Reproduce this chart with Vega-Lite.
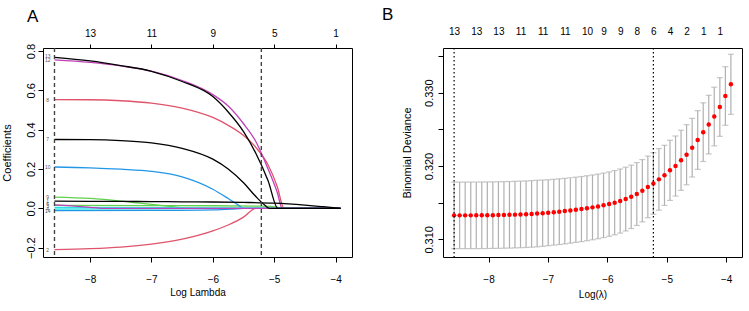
{
"$schema": "https://vega.github.io/schema/vega-lite/v6.json",
"padding": {"left": 0, "top": 5, "right": 5, "bottom": 5},
"background": "white",
"spacing": 28,
"config": {
  "font": "Liberation Sans",
  "view": {"stroke": "black", "strokeWidth": 1},
  "axis": {"grid": false, "domain": false, "tickColor": "black", "labelColor": "black", "titleColor": "black", "labelFontSize": 10, "titleFontSize": 10, "titleFontWeight": "normal", "tickSize": 5},
  "title": {"fontSize": 17, "fontWeight": "normal", "anchor": "start", "frame": "group", "color": "black"}
},
"datasets": {
  "paths": [
    {"v":"2","l":-8.58,"c":-0.21},{"v":"2","l":-8.0,"c":-0.205},{"v":"2","l":-7.5,"c":-0.197},{"v":"2","l":-7.0,"c":-0.182},{"v":"2","l":-6.5,"c":-0.157},{"v":"2","l":-6.0,"c":-0.115},{"v":"2","l":-5.75,"c":-0.085},{"v":"2","l":-5.5,"c":-0.045},{"v":"2","l":-5.3,"c":0.0},{"v":"2","l":-3.92,"c":0.0},
    {"v":"8","l":-8.58,"c":0.553},{"v":"8","l":-8.0,"c":0.552},{"v":"8","l":-7.5,"c":0.547},{"v":"8","l":-7.0,"c":0.535},{"v":"8","l":-6.5,"c":0.51},{"v":"8","l":-6.0,"c":0.462},{"v":"8","l":-5.75,"c":0.422},{"v":"8","l":-5.5,"c":0.37},{"v":"8","l":-5.3,"c":0.31},{"v":"8","l":-5.1,"c":0.22},{"v":"8","l":-4.95,"c":0.11},{"v":"8","l":-4.84,"c":0.0},{"v":"8","l":-3.92,"c":0.0},
    {"v":"3","l":-8.58,"c":0.015},{"v":"3","l":-7.0,"c":0.014},{"v":"3","l":-6.0,"c":0.013},{"v":"3","l":-5.2,"c":0.011},{"v":"3","l":-4.95,"c":0.006},{"v":"3","l":-4.85,"c":0.0},{"v":"3","l":-3.92,"c":0.0},
    {"v":"9","l":-8.58,"c":0.057},{"v":"9","l":-8.0,"c":0.05},{"v":"9","l":-7.5,"c":0.037},{"v":"9","l":-7.0,"c":0.02},{"v":"9","l":-6.7,"c":0.01},{"v":"9","l":-6.4,"c":0.0},{"v":"9","l":-3.92,"c":0.0},
    {"v":"4","l":-8.58,"c":-0.012},{"v":"4","l":-7.0,"c":-0.011},{"v":"4","l":-6.0,"c":-0.008},{"v":"4","l":-5.7,"c":-0.004},{"v":"4","l":-5.5,"c":0.0},{"v":"4","l":-3.92,"c":0.0},
    {"v":"10","l":-8.58,"c":0.21},{"v":"10","l":-8.0,"c":0.206},{"v":"10","l":-7.5,"c":0.199},{"v":"10","l":-7.0,"c":0.188},{"v":"10","l":-6.5,"c":0.16},{"v":"10","l":-6.0,"c":0.097},{"v":"10","l":-5.75,"c":0.05},{"v":"10","l":-5.6,"c":0.02},{"v":"10","l":-5.5,"c":0.0},{"v":"10","l":-3.92,"c":0.0},
    {"v":"5","l":-8.58,"c":0.004},{"v":"5","l":-7.0,"c":0.003},{"v":"5","l":-6.0,"c":0.002},{"v":"5","l":-5.5,"c":0.001},{"v":"5","l":-5.2,"c":0.0},{"v":"5","l":-3.92,"c":0.0},
    {"v":"11","l":-8.58,"c":-0.004},{"v":"11","l":-7.5,"c":-0.003},{"v":"11","l":-6.5,"c":-0.001},{"v":"11","l":-6.2,"c":0.0},{"v":"11","l":-3.92,"c":0.0},
    {"v":"6","l":-8.58,"c":0.018},{"v":"6","l":-8.3,"c":0.012},{"v":"6","l":-8.0,"c":0.005},{"v":"6","l":-7.8,"c":0.0},{"v":"6","l":-3.92,"c":0.0},
    {"v":"12","l":-8.58,"c":0.755},{"v":"12","l":-8.0,"c":0.742},{"v":"12","l":-7.5,"c":0.724},{"v":"12","l":-7.0,"c":0.698},{"v":"12","l":-6.5,"c":0.65},{"v":"12","l":-6.0,"c":0.578},{"v":"12","l":-5.75,"c":0.52},{"v":"12","l":-5.5,"c":0.43},{"v":"12","l":-5.3,"c":0.34},{"v":"12","l":-5.1,"c":0.2},{"v":"12","l":-4.95,"c":0.08},{"v":"12","l":-4.87,"c":0.0},{"v":"12","l":-3.92,"c":0.0},
    {"v":"1","l":-8.58,"c":0.036},{"v":"1","l":-8.0,"c":0.0355},{"v":"1","l":-7.5,"c":0.035},{"v":"1","l":-7.0,"c":0.034},{"v":"1","l":-6.5,"c":0.033},{"v":"1","l":-6.0,"c":0.032},{"v":"1","l":-5.5,"c":0.03},{"v":"1","l":-5.0,"c":0.026},{"v":"1","l":-4.5,"c":0.016},{"v":"1","l":-4.2,"c":0.008},{"v":"1","l":-3.92,"c":0.0},
    {"v":"7","l":-8.58,"c":0.35},{"v":"7","l":-8.0,"c":0.349},{"v":"7","l":-7.5,"c":0.344},{"v":"7","l":-7.0,"c":0.333},{"v":"7","l":-6.5,"c":0.305},{"v":"7","l":-6.0,"c":0.25},{"v":"7","l":-5.75,"c":0.2},{"v":"7","l":-5.5,"c":0.13},{"v":"7","l":-5.3,"c":0.06},{"v":"7","l":-5.15,"c":0.015},{"v":"7","l":-5.08,"c":0.0},{"v":"7","l":-3.92,"c":0.0},
    {"v":"13","l":-8.58,"c":0.768},{"v":"13","l":-8.0,"c":0.75},{"v":"13","l":-7.5,"c":0.726},{"v":"13","l":-7.0,"c":0.697},{"v":"13","l":-6.5,"c":0.645},{"v":"13","l":-6.0,"c":0.568},{"v":"13","l":-5.75,"c":0.49},{"v":"13","l":-5.5,"c":0.39},{"v":"13","l":-5.3,"c":0.28},{"v":"13","l":-5.1,"c":0.14},{"v":"13","l":-4.94,"c":0.0},{"v":"13","l":-3.92,"c":0.0}
  ],
  "labelsA": [
    {"lab":"13","lx":-8.69,"c":0.776},{"lab":"12","lx":-8.69,"c":0.754},{"lab":"8","lx":-8.69,"c":0.553},{"lab":"7","lx":-8.69,"c":0.35},{"lab":"10","lx":-8.69,"c":0.21},{"lab":"9","lx":-8.69,"c":0.06},{"lab":"1","lx":-8.69,"c":0.038},{"lab":"6","lx":-8.69,"c":0.02},{"lab":"3","lx":-8.69,"c":0.012},{"lab":"4","lx":-8.69,"c":-0.004},{"lab":"14","lx":-8.69,"c":-0.014},{"lab":"2","lx":-8.69,"c":-0.21}
  ],
  "cutsA": [{"l":-8.58},{"l":-5.21}],
  "cutsB": [{"l":-8.58},{"l":-5.225}],
  "cv": [
    {"l":-8.58,"m":0.31327,"lo":0.30873,"hi":0.31781},
    {"l":-8.487,"m":0.31327,"lo":0.30873,"hi":0.31781},
    {"l":-8.394,"m":0.31327,"lo":0.30873,"hi":0.31781},
    {"l":-8.300,"m":0.31327,"lo":0.30873,"hi":0.31781},
    {"l":-8.207,"m":0.31328,"lo":0.30874,"hi":0.31782},
    {"l":-8.114,"m":0.31328,"lo":0.30874,"hi":0.31782},
    {"l":-8.021,"m":0.31329,"lo":0.30875,"hi":0.31783},
    {"l":-7.928,"m":0.31330,"lo":0.30876,"hi":0.31784},
    {"l":-7.834,"m":0.31331,"lo":0.30877,"hi":0.31785},
    {"l":-7.741,"m":0.31333,"lo":0.30879,"hi":0.31787},
    {"l":-7.648,"m":0.31335,"lo":0.30881,"hi":0.31789},
    {"l":-7.555,"m":0.31337,"lo":0.30883,"hi":0.31791},
    {"l":-7.462,"m":0.31340,"lo":0.30886,"hi":0.31794},
    {"l":-7.368,"m":0.31343,"lo":0.30889,"hi":0.31797},
    {"l":-7.275,"m":0.31347,"lo":0.30893,"hi":0.31801},
    {"l":-7.182,"m":0.31352,"lo":0.30898,"hi":0.31806},
    {"l":-7.089,"m":0.31357,"lo":0.30905,"hi":0.31809},
    {"l":-6.996,"m":0.31363,"lo":0.30913,"hi":0.31813},
    {"l":-6.902,"m":0.31370,"lo":0.30921,"hi":0.31819},
    {"l":-6.809,"m":0.31377,"lo":0.30929,"hi":0.31825},
    {"l":-6.716,"m":0.31385,"lo":0.30938,"hi":0.31832},
    {"l":-6.623,"m":0.31394,"lo":0.30948,"hi":0.31840},
    {"l":-6.530,"m":0.31403,"lo":0.30958,"hi":0.31848},
    {"l":-6.436,"m":0.31413,"lo":0.30969,"hi":0.31857},
    {"l":-6.343,"m":0.31424,"lo":0.30981,"hi":0.31867},
    {"l":-6.250,"m":0.31436,"lo":0.30994,"hi":0.31878},
    {"l":-6.157,"m":0.31449,"lo":0.31008,"hi":0.31890},
    {"l":-6.064,"m":0.31464,"lo":0.31024,"hi":0.31904},
    {"l":-5.970,"m":0.31481,"lo":0.31042,"hi":0.31920},
    {"l":-5.877,"m":0.31500,"lo":0.31062,"hi":0.31938},
    {"l":-5.784,"m":0.31522,"lo":0.31085,"hi":0.31959},
    {"l":-5.691,"m":0.31549,"lo":0.31114,"hi":0.31984},
    {"l":-5.598,"m":0.31580,"lo":0.31148,"hi":0.32012},
    {"l":-5.504,"m":0.31618,"lo":0.31189,"hi":0.32047},
    {"l":-5.411,"m":0.31663,"lo":0.31238,"hi":0.32088},
    {"l":-5.318,"m":0.31715,"lo":0.31294,"hi":0.32136},
    {"l":-5.225,"m":0.31762,"lo":0.31342,"hi":0.32182},
    {"l":-5.132,"m":0.31818,"lo":0.31398,"hi":0.32238},
    {"l":-5.038,"m":0.31873,"lo":0.31463,"hi":0.32283},
    {"l":-4.945,"m":0.31941,"lo":0.31531,"hi":0.32351},
    {"l":-4.852,"m":0.32000,"lo":0.31590,"hi":0.32410},
    {"l":-4.759,"m":0.32078,"lo":0.31668,"hi":0.32488},
    {"l":-4.666,"m":0.32154,"lo":0.31744,"hi":0.32564},
    {"l":-4.572,"m":0.32250,"lo":0.31850,"hi":0.32650},
    {"l":-4.479,"m":0.32355,"lo":0.31955,"hi":0.32755},
    {"l":-4.386,"m":0.32462,"lo":0.32062,"hi":0.32862},
    {"l":-4.293,"m":0.32565,"lo":0.32165,"hi":0.32965},
    {"l":-4.200,"m":0.32675,"lo":0.32275,"hi":0.33075},
    {"l":-4.106,"m":0.32805,"lo":0.32405,"hi":0.33205},
    {"l":-4.013,"m":0.32955,"lo":0.32555,"hi":0.33355},
    {"l":-3.920,"m":0.33115,"lo":0.32705,"hi":0.33525}
  ]
},
"hconcat": [
  {
    "width": 309, "height": 209,
    "title": {"text": "A", "dx": -16, "offset": 2},
    "resolve": {"axis": {"x": "independent"}},
    "layer": [
      {
        "data": {"name": "paths"},
        "mark": {"type": "line", "strokeWidth": 1.3, "interpolate": "monotone"},
        "encoding": {
          "x": {"field": "l", "type": "quantitative", "scale": {"domain": [-8.767, -3.733], "nice": false, "zero": false},
                "axis": {"values": [-8, -7, -6, -5, -4], "title": "Log Lambda", "labelPadding": 12, "titlePadding": 3}},
          "y": {"field": "c", "type": "quantitative", "scale": {"domain": [-0.2477, 0.8153], "nice": false, "zero": false},
                "axis": {"values": [-0.2, 0, 0.2, 0.4, 0.6, 0.8], "format": ".1f", "title": "Coefficients", "labelAngle": -90, "labelAlign": "center", "labelBaseline": "bottom", "labelPadding": 2, "titlePadding": 13, "titleFontSize": 11, "labelFontSize": 11}},
          "color": {"field": "v", "type": "nominal", "legend": null,
                    "scale": {"domain": ["2","8","3","9","4","10","5","11","6","12","1","7","13"],
                              "range": ["#DF536B","#DF536B","#61D04F","#61D04F","#2297E6","#2297E6","#28E2E5","#28E2E5","#C040B8","#C040B8","#000000","#000000","#000000"]}}
        }
      },
      {
        "data": {"name": "labelsA"},
        "mark": {"type": "text", "fontSize": 5, "color": "#555555"},
        "encoding": {
          "x": {"field": "lx", "type": "quantitative", "axis": null},
          "y": {"field": "c", "type": "quantitative", "title": "Coefficients"},
          "text": {"field": "lab"}
        }
      },
      {
        "data": {"name": "cutsA"},
        "mark": {"type": "rule", "strokeDash": [4, 3], "strokeWidth": 1.4, "color": "#444444"},
        "encoding": {
          "x": {"field": "l", "type": "quantitative",
                "axis": {"orient": "top", "values": [-8, -7, -6, -5, -4], "title": null, "tickSize": 4, "labelPadding": 6,
                         "labelExpr": "datum.value == -8 ? '13' : datum.value == -7 ? '11' : datum.value == -6 ? '9' : datum.value == -5 ? '5' : '1'"}}
        }
      }
    ]
  },
  {
    "width": 299, "height": 209,
    "title": {"text": "B", "dx": -61, "offset": 2},
    "resolve": {"axis": {"x": "independent"}},
    "layer": [
      {
        "data": {"name": "cv"},
        "mark": {"type": "rule", "color": "#b0b0b0", "strokeWidth": 1.2},
        "encoding": {
          "x": {"field": "l", "type": "quantitative", "scale": {"domain": [-8.767, -3.733], "nice": false, "zero": false},
                "axis": {"values": [-8, -7, -6, -5, -4], "title": "Log(λ)", "labelPadding": 12, "titlePadding": 5}},
          "y": {"field": "lo", "type": "quantitative", "title": "Binomial Deviance", "scale": {"domain": [0.30759, 0.3361], "nice": false, "zero": false},
                "axis": {"values": [0.310, 0.315, 0.320, 0.325, 0.330, 0.335], "labelExpr": "abs(datum.value*100 - round(datum.value*100)) < 0.01 ? format(datum.value, '.3f') : ''", "labelAngle": -90, "labelAlign": "center", "labelBaseline": "bottom", "labelPadding": 4, "titlePadding": 11, "titleFontSize": 11, "labelFontSize": 11}},
          "y2": {"field": "hi"}
        }
      },
      {
        "data": {"name": "cv"},
        "mark": {"type": "tick", "orient": "horizontal", "size": 6, "thickness": 1.2, "color": "#b0b0b0"},
        "encoding": {
          "x": {"field": "l", "type": "quantitative", "axis": null},
          "y": {"field": "lo", "type": "quantitative", "title": "Binomial Deviance"}
        }
      },
      {
        "data": {"name": "cv"},
        "mark": {"type": "tick", "orient": "horizontal", "size": 6, "thickness": 1.2, "color": "#b0b0b0"},
        "encoding": {
          "x": {"field": "l", "type": "quantitative", "axis": null},
          "y": {"field": "hi", "type": "quantitative", "title": "Binomial Deviance"}
        }
      },
      {
        "data": {"name": "cv"},
        "mark": {"type": "circle", "size": 20, "color": "#ff0000", "opacity": 1},
        "encoding": {
          "x": {"field": "l", "type": "quantitative", "axis": null},
          "y": {"field": "m", "type": "quantitative", "title": "Binomial Deviance"}
        }
      },
      {
        "data": {"name": "cutsB"},
        "mark": {"type": "rule", "strokeDash": [1.5, 2.5], "strokeWidth": 1.2, "color": "#000000"},
        "encoding": {
          "x": {"field": "l", "type": "quantitative",
                "axis": {"orient": "top", "title": null, "ticks": false, "tickSize": 0, "labelPadding": 12,
                         "values": [-8.58, -8.207, -7.834, -7.462, -7.089, -6.716, -6.343, -6.064, -5.784, -5.504, -5.225, -4.945, -4.666, -4.386, -4.106],
                         "labelExpr": "datum.value < -7.6 ? '13' : datum.value < -6.5 ? '11' : datum.value < -6.2 ? '10' : datum.value < -5.6 ? '9' : datum.value < -5.4 ? '8' : datum.value < -5.1 ? '6' : datum.value < -4.8 ? '4' : datum.value < -4.5 ? '2' : '1'"}}
        }
      }
    ]
  }
]
}
